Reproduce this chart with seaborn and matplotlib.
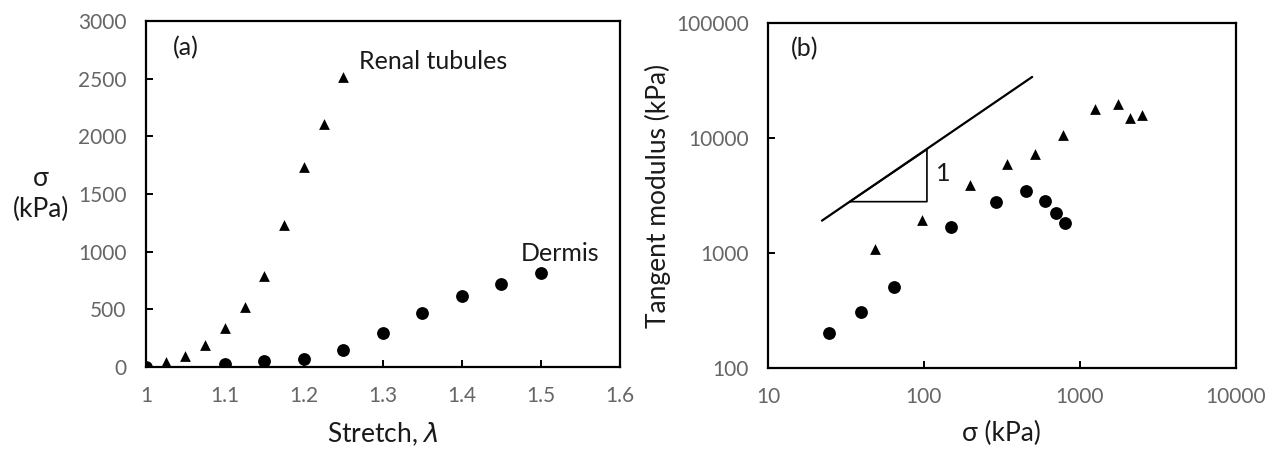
import numpy as np
import pandas as pd
import matplotlib
matplotlib.use("Agg")
import matplotlib.pyplot as plt
import seaborn as sns

# panel (a): stress vs stretch
renal_stretch = [1.0, 1.025, 1.05, 1.075, 1.1, 1.125, 1.15, 1.175, 1.2, 1.225, 1.25]
renal_stress = [0, 40, 93, 195, 340, 523, 785, 1230, 1735, 2110, 2510]
dermis_stretch = [1.0, 1.1, 1.15, 1.2, 1.25, 1.3, 1.35, 1.4, 1.45, 1.5]
dermis_stress = [0, 29, 49, 67, 151, 297, 465, 613, 718, 814]

# panel (b): tangent modulus vs stress (log-log)
renal_sigma = [48.5, 97, 196, 342, 519, 774, 1241, 1742, 2099, 2500]
renal_modulus = [1079, 1937, 3873, 5930, 7244, 10520, 18050, 19800, 14860, 15890]
dermis_sigma = [24.8, 39.7, 64.4, 150, 290, 454, 593, 707, 797]
dermis_modulus = [201, 304, 511, 1696, 2795, 3483, 2812, 2243, 1837]

# slope-1 guide line and triangle
guide_x = [22.2, 494]
guide_y = [1912, 33960]
tri_x = [33.5, 104.5, 104.5]
tri_y = [2795, 2795, 7950]

xticks_a = [1, 1.1, 1.2, 1.3, 1.4, 1.5, 1.6]
xticklabels_a = ["1", "1.1", "1.2", "1.3", "1.4", "1.5", "1.6"]
yticks_a = [0, 500, 1000, 1500, 2000, 2500, 3000]
xticks_b = [10, 100, 1000, 10000]
yticks_b = [100, 1000, 10000, 100000]

sns.set_style("ticks")
plt.rcParams['font.family'] = ['Lato', 'DejaVu Sans']
plt.rcParams['mathtext.fontset'] = 'dejavusans'

fig = plt.figure(figsize=(12.74, 4.5), dpi=100)
ax1 = fig.add_axes([0.1146, 0.1844, 0.372, 0.769])
ax2 = fig.add_axes([0.6028, 0.1822, 0.3673, 0.7667])

tick_col = "#666666"
lab_col = "#1a1a1a"

sns.scatterplot(x=renal_stretch, y=renal_stress, ax=ax1, marker="^", color="black",
                s=60, edgecolor="black", linewidth=0)
sns.scatterplot(x=dermis_stretch, y=dermis_stress, ax=ax1, marker="o", color="black",
                s=85, edgecolor="black", linewidth=0)
ax1.set_xlim(1, 1.6)
ax1.set_ylim(0, 3000)
ax1.set_xticks(xticks_a)
ax1.set_xticklabels(xticklabels_a)
ax1.set_yticks(yticks_a)
ax1.set_xlabel("Stretch, $\\it{\\lambda}$", fontsize=19, color=lab_col, labelpad=10)
ax1.set_ylabel("σ\n(kPa)", fontsize=19, color=lab_col, rotation=0, va="center",
               linespacing=1.3)
ax1.yaxis.set_label_coords(-0.222, 0.5)
ax1.text(1.05, 2770, "(a)", fontsize=18, color=lab_col, ha="center", va="center")
ax1.text(1.27, 2650, "Renal tubules", fontsize=18, color=lab_col, ha="left", va="center")
ax1.text(1.475, 985, "Dermis", fontsize=18, color=lab_col, ha="left", va="center")

sns.scatterplot(x=renal_sigma, y=renal_modulus, ax=ax2, marker="^", color="black",
                s=60, edgecolor="black", linewidth=0)
sns.scatterplot(x=dermis_sigma, y=dermis_modulus, ax=ax2, marker="o", color="black",
                s=85, edgecolor="black", linewidth=0)
sns.lineplot(x=guide_x, y=guide_y, ax=ax2, color="black", linewidth=1.6)
ax2.plot(tri_x + [tri_x[0]], tri_y + [tri_y[0]], color="black", linewidth=1.2)
ax2.set_xscale("log")
ax2.set_yscale("log")
ax2.set_xlim(10, 10000)
ax2.set_ylim(100, 100000)
ax2.set_xticks(xticks_b)
ax2.set_xticklabels([str(v) for v in xticks_b])
ax2.set_yticks(yticks_b)
ax2.set_yticklabels([str(v) for v in yticks_b])
ax2.minorticks_off()
ax2.set_xlabel("σ (kPa)", fontsize=19, color=lab_col, labelpad=10)
ax2.set_ylabel("Tangent modulus (kPa)", fontsize=19, color=lab_col, va="center")
ax2.yaxis.set_label_coords(-0.235, 0.5)
ax2.text(17.3, 60000, "(b)", fontsize=18, color=lab_col, ha="center", va="center")
ax2.text(132, 4900, "1", fontsize=18, color=lab_col, ha="center", va="center")

for ax in (ax1, ax2):
    for sp in ax.spines.values():
        sp.set_visible(True)
        sp.set_color("black")
        sp.set_linewidth(1.6)
    ax.tick_params(axis="both", direction="in", length=5, width=1.4, colors="black",
                   labelcolor=tick_col, labelsize=15, top=False, right=False, pad=14)

fig.savefig("out.png", dpi=100)
